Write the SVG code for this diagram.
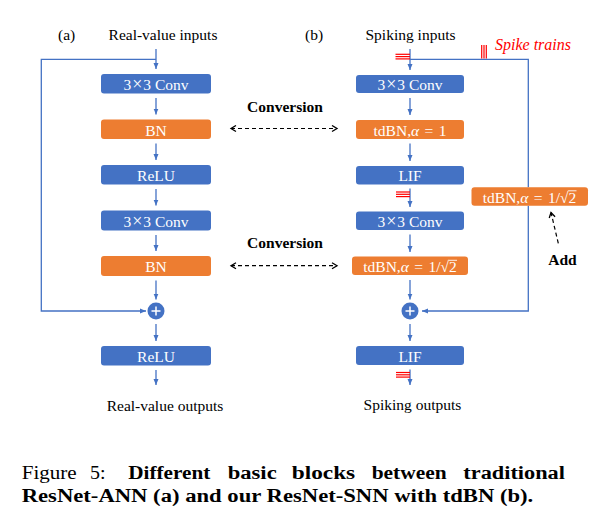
<svg xmlns="http://www.w3.org/2000/svg" width="601" height="522" viewBox="0 0 601 522">
<defs>
<style>
.lbl{font-family:"Liberation Serif","Times New Roman",serif;font-size:15.5px;fill:#000}
.bold{font-weight:bold}
.bt{font-family:"Liberation Serif","Times New Roman",serif;font-size:15.5px;fill:#fff;text-anchor:middle}
.x{font-size:18px}
.blue{fill:#4472C4}
.orange{fill:#ED7D31}
.wire{stroke:#4472C4;stroke-width:1.3;fill:none}
.dash{stroke:#000;stroke-width:1.2;stroke-dasharray:4,3;fill:none}
.spk{stroke:#FF0000;stroke-width:1.2}
.vin{stroke:#fff;stroke-width:0.9}
.cap{font-family:"Liberation Serif","Times New Roman",serif;font-size:18.6px;fill:#000}
</style>
<marker id="ah" markerWidth="6" markerHeight="6" refX="6" refY="3" orient="auto" markerUnits="userSpaceOnUse">
<path d="M0,0.5 L6,3 L0,5.5 Z" fill="#4472C4"/>
</marker>
<marker id="ch" markerWidth="8" markerHeight="8" refX="6" refY="4" orient="auto-start-reverse" markerUnits="userSpaceOnUse">
<path d="M1,1 L6,4 L1,7" fill="none" stroke="#000" stroke-width="1.3"/>
</marker>
</defs>
<rect width="601" height="522" fill="#fff"/>

<!-- titles -->
<text class="lbl" x="58" y="40">(a)</text>
<text class="lbl" x="163" y="40" text-anchor="middle">Real-value inputs</text>
<text class="lbl" x="305" y="40">(b)</text>
<text class="lbl" x="410.5" y="40" text-anchor="middle">Spiking inputs</text>
<text class="lbl" x="165" y="410.5" text-anchor="middle">Real-value outputs</text>
<text class="lbl" x="412.5" y="409.5" text-anchor="middle">Spiking outputs</text>
<text class="lbl" x="495" y="50" style="fill:#FF0000;font-style:italic;font-size:16px">Spike trains</text>

<!-- connectors -->
<g id="connectors">
<line class="wire" x1="156" y1="49" x2="156" y2="69" marker-end="url(#ah)"/>
<polyline class="wire" points="156,59.3 41.3,59.3 41.3,311 146,311" marker-end="url(#ah)"/>
<line class="wire" x1="156" y1="98" x2="156" y2="114.5" marker-end="url(#ah)"/>
<line class="wire" x1="156" y1="143.5" x2="156" y2="160" marker-end="url(#ah)"/>
<line class="wire" x1="156" y1="189" x2="156" y2="205.5" marker-end="url(#ah)"/>
<line class="wire" x1="156" y1="235" x2="156" y2="251" marker-end="url(#ah)"/>
<line class="wire" x1="156" y1="280.5" x2="156" y2="299.5" marker-end="url(#ah)"/>
<line class="wire" x1="156" y1="324" x2="156" y2="341" marker-end="url(#ah)"/>
<line class="wire" x1="156" y1="370" x2="156" y2="385" marker-end="url(#ah)"/>

<line class="wire" x1="410" y1="49" x2="410" y2="70" marker-end="url(#ah)"/>
<polyline class="wire" points="410,59.3 528.3,59.3 528.3,187.3"/>
<polyline class="wire" points="528.3,205.7 528.3,311 422,311" marker-end="url(#ah)"/>
<line class="wire" x1="410" y1="98" x2="410" y2="115" marker-end="url(#ah)"/>
<line class="wire" x1="410" y1="143.5" x2="410" y2="161" marker-end="url(#ah)"/>
<line class="wire" x1="410" y1="188.5" x2="410" y2="207" marker-end="url(#ah)"/>
<line class="wire" x1="410" y1="234.5" x2="410" y2="252" marker-end="url(#ah)"/>
<line class="wire" x1="410" y1="280" x2="410" y2="299.5" marker-end="url(#ah)"/>
<line class="wire" x1="410" y1="324" x2="410" y2="341" marker-end="url(#ah)"/>
<line class="wire" x1="410" y1="369.5" x2="410" y2="385" marker-end="url(#ah)"/>

<line class="dash" x1="231" y1="128.5" x2="337" y2="128.5" marker-start="url(#ch)" marker-end="url(#ch)"/>
<line class="dash" x1="231" y1="265.7" x2="337" y2="265.7" marker-start="url(#ch)" marker-end="url(#ch)"/>
<line class="dash" x1="558.3" y1="243.3" x2="551" y2="212.5" marker-end="url(#ch)"/>
</g>

<!-- spike markers -->
<g id="spikes">
<line class="spk" x1="395.5" y1="54.3" x2="410" y2="54.3"/>
<line class="spk" x1="395.5" y1="56.6" x2="410" y2="56.6"/>
<line class="spk" x1="395.5" y1="58.9" x2="410" y2="58.9"/>
<line class="spk" x1="481.7" y1="45" x2="481.7" y2="58.5"/>
<line class="spk" x1="484" y1="45" x2="484" y2="58.5"/>
<line class="spk" x1="486.3" y1="45" x2="486.3" y2="58.5"/>
<line class="spk" x1="396" y1="192" x2="410" y2="192"/>
<line class="spk" x1="396" y1="194.3" x2="410" y2="194.3"/>
<line class="spk" x1="396" y1="196.6" x2="410" y2="196.6"/>
<line class="spk" x1="396" y1="372.5" x2="410" y2="372.5"/>
<line class="spk" x1="396" y1="374.8" x2="410" y2="374.8"/>
<line class="spk" x1="396" y1="377.1" x2="410" y2="377.1"/>
</g>

<text class="lbl bold" x="285" y="111.7" text-anchor="middle">Conversion</text>
<text class="lbl bold" x="285" y="248.3" text-anchor="middle">Conversion</text>
<text class="lbl bold" x="562.5" y="265" text-anchor="middle">Add</text>

<!-- column a -->
<g id="a-conv1"><rect class="blue" x="101" y="74" width="110" height="19.5" rx="3"/><text class="bt" x="156" y="90">3<tspan class="x" dx="1">×</tspan><tspan dx="1">3 Conv</tspan></text></g>
<g id="a-bn1"><rect class="orange" x="101" y="119.5" width="110" height="19.5" rx="3"/><text class="bt" x="156" y="135.5">BN</text></g>
<g id="a-relu1"><rect class="blue" x="101" y="165" width="110" height="19.5" rx="3"/><text class="bt" x="156" y="181">ReLU</text></g>
<g id="a-conv2"><rect class="blue" x="101" y="210.5" width="110" height="20" rx="3"/><text class="bt" x="156" y="226.5">3<tspan class="x" dx="1">×</tspan><tspan dx="1">3 Conv</tspan></text></g>
<g id="a-bn2"><rect class="orange" x="101" y="256" width="110" height="20" rx="3"/><text class="bt" x="156" y="272">BN</text></g>
<g id="a-add"><circle class="blue" cx="156" cy="311" r="8.5"/><path d="M151.5,311 H160.5 M156,306.5 V315.5" stroke="#fff" stroke-width="1.5"/></g>
<g id="a-relu2"><rect class="blue" x="101" y="346" width="110" height="19.5" rx="3"/><text class="bt" x="156" y="362">ReLU</text></g>

<!-- column b -->
<g id="b-conv1"><rect class="blue" x="356" y="75" width="108" height="18" rx="3"/><text class="bt" x="410" y="90">3<tspan class="x" dx="1">×</tspan><tspan dx="1">3 Conv</tspan></text></g>
<g id="b-tdbn1"><rect class="orange" x="356" y="120" width="108" height="19" rx="3"/><text class="bt" x="410" y="135.5">tdBN,<tspan font-style="italic">α</tspan> <tspan dx="1.5">=</tspan> <tspan dx="1.5">1</tspan></text></g>
<g id="b-lif1"><rect class="blue" x="356" y="166" width="108" height="18.5" rx="3"/><text class="bt" x="410" y="181">LIF</text></g>
<g id="b-conv2"><rect class="blue" x="356" y="211.5" width="108" height="18.5" rx="3"/><text class="bt" x="410" y="226.5">3<tspan class="x" dx="1">×</tspan><tspan dx="1">3 Conv</tspan></text></g>
<g id="b-tdbn2"><rect class="orange" x="352" y="256.5" width="116" height="18.5" rx="3"/><text class="bt" x="410" y="272">tdBN,<tspan font-style="italic">α</tspan> <tspan dx="1.5">=</tspan> <tspan dx="1.5">1/√2</tspan></text><line class="vin" x1="448.7" y1="260.3" x2="457" y2="260.3"/></g>
<g id="b-add"><circle class="blue" cx="410" cy="311" r="8.5"/><path d="M405.5,311 H414.5 M410,306.5 V315.5" stroke="#fff" stroke-width="1.5"/></g>
<g id="b-lif2"><rect class="blue" x="356" y="346" width="108" height="19" rx="3"/><text class="bt" x="410" y="361.5">LIF</text></g>
<g id="b-side"><rect class="orange" x="471.5" y="187.3" width="116.5" height="18.5" rx="3"/><text class="bt" x="529.5" y="202.5">tdBN,<tspan font-style="italic">α</tspan> <tspan dx="1.5">=</tspan> <tspan dx="1.5">1/√2</tspan></text><line class="vin" x1="568.2" y1="190.8" x2="576.5" y2="190.8"/></g>

<!-- caption -->
<g id="caption">
<text class="cap" x="21.7" y="479" textLength="55" lengthAdjust="spacingAndGlyphs">Figure</text>
<text class="cap" x="90" y="479" textLength="15.5" lengthAdjust="spacingAndGlyphs">5:</text>
<text class="cap bold" x="128.3" y="479" textLength="82" lengthAdjust="spacingAndGlyphs">Different</text>
<text class="cap bold" x="227.7" y="479" textLength="49" lengthAdjust="spacingAndGlyphs">basic</text>
<text class="cap bold" x="291.7" y="479" textLength="63.5" lengthAdjust="spacingAndGlyphs">blocks</text>
<text class="cap bold" x="371.7" y="479" textLength="75" lengthAdjust="spacingAndGlyphs">between</text>
<text class="cap bold" x="463.3" y="479" textLength="101.7" lengthAdjust="spacingAndGlyphs">traditional</text>
<text class="cap bold" x="21.7" y="501.7" textLength="511.6" lengthAdjust="spacingAndGlyphs">ResNet-ANN (a) and our ResNet-SNN with tdBN (b).</text>
</g>
</svg>
